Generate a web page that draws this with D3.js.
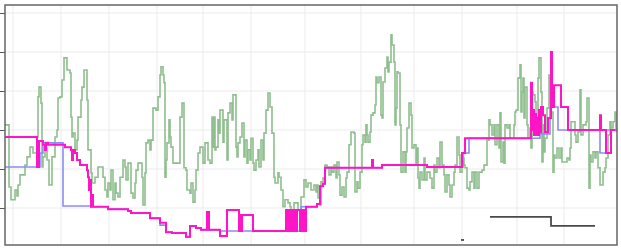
<!DOCTYPE html>
<html>
<head>
<meta charset="utf-8">
<script src="https://cdn.jsdelivr.net/npm/d3@7"></script>
<style>
  body { margin: 0; background: #fff; }
  svg { display: block; font-family: "DejaVu Sans", sans-serif; }
</style>
</head>
<body>
<svg id="chart" width="621" height="249"></svg>
<script>
// tick positions (x in days, y in value units)
const xTicks = [8, 56, 104, 152, 198, 246, 300, 356, 409, 457, 512, 559]
const yTicks = [0, 10, 20, 30, 40, 50]

// raw series (noisy, green)
const greenSeries = [[0,21.3],[4,5.4],[6,2.1],[10,4.6],[12,3.1],[13,5.9],[15,8.5],[20,11.0],[22,13.1],[25,15.6],[28,14.1],[32,18.2],[33,28.5],[34,31.0],[36,26.9],[37,10.5],[38,13.1],[40,15.4],[42,12.3],[44,5.9],[47,13.1],[50,18.2],[52,20.0],[53,28.2],[55,28.5],[57,32.8],[59,38.5],[62,35.4],[65,34.6],[66,23.3],[67,18.2],[68,19.2],[70,14.9],[72,17.4],[73,23.3],[76,27.7],[77,31.0],[79,35.4],[82,27.7],[83,14.9],[86,9.0],[87,6.4],[90,7.9],[93,10.5],[98,7.9],[100,4.6],[102,2.8],[103,6.4],[105,4.6],[106,9.7],[108,2.1],[110,6.4],[111,3.8],[113,2.8],[115,7.9],[118,12.3],[120,10.5],[121,7.2],[123,11.5],[126,3.8],[128,2.6],[130,6.4],[131,9.7],[133,11.5],[137,7.9],[138,0.8],[140,9.0],[141,16.7],[143,17.4],[145,14.9],[146,17.4],[148,25.6],[151,25.1],[153,28.5],[155,34.1],[156,36.2],[158,34.1],[159,32.1],[160,7.9],[161,12.3],[162,16.7],[164,22.6],[165,18.2],[166,15.6],[168,11.5],[175,23.3],[177,26.9],[179,10.3],[181,9.7],[182,4.6],[185,3.8],[186,6.4],[188,1.5],[190,4.6],[191,9.7],[193,14.1],[195,15.6],[198,11.5],[200,16.7],[203,12.3],[205,11.5],[207,23.3],[208,15.6],[209,23.3],[210,14.9],[211,15.6],[213,22.6],[214,19.2],[215,25.1],[218,16.9],[219,22.6],[222,12.3],[223,24.4],[225,26.9],[227,22.6],[228,29.0],[231,15.6],[232,13.1],[233,16.7],[235,18.2],[237,21.8],[239,13.1],[240,17.4],[242,11.5],[243,14.9],[245,12.3],[246,17.9],[248,11.5],[249,9.7],[251,12.3],[253,14.9],[254,10.5],[256,17.4],[258,12.3],[259,19.2],[261,25.1],[263,29.5],[265,25.9],[267,19.2],[269,7.9],[270,6.4],[273,9.0],[274,7.9],[276,4.6],[278,0.3],[280,2.1],[283,1.3],[285,0.3],[286,-1.3],[288,-2.3],[289,1.3],[293,-0.5],[296,2.8],[299,7.2],[301,5.4],[303,6.4],[306,4.6],[309,5.9],[311,4.1],[312,5.9],[313,2.6],[315,0.8],[316,6.7],[318,7.7],[320,11.0],[322,10.5],[324,8.5],[326,10.5],[327,9.2],[329,11.0],[331,7.7],[332,11.8],[334,8.5],[335,3.3],[337,5.4],[339,2.8],[341,7.7],[342,9.2],[344,16.2],[346,19.5],[349,19.2],[350,4.1],[352,6.7],[353,5.1],[355,9.2],[357,16.2],[358,18.7],[360,16.9],[361,21.3],[362,18.7],[363,16.9],[365,19.5],[366,23.8],[368,24.4],[370,26.4],[371,33.6],[372,32.1],[374,33.6],[376,23.8],[377,23.1],[378,32.3],[380,35.9],[382,38.7],[383,34.9],[384,37.4],[386,44.4],[387,41.8],[389,37.4],[390,21.3],[391,25.6],[392,34.9],[393,34.6],[395,21.3],[396,9.2],[398,14.4],[400,9.2],[401,14.4],[402,20.5],[404,26.9],[406,23.8],[407,15.4],[409,16.2],[411,11.0],[412,15.4],[413,7.7],[414,5.1],[415,9.2],[417,7.2],[419,12.8],[420,7.2],[422,9.2],[425,7.7],[427,5.1],[429,11.0],[430,9.2],[432,12.8],[434,10.3],[435,16.9],[437,11.0],[439,8.5],[440,4.1],[442,8.5],[444,5.9],[445,2.8],[447,5.9],[449,9.2],[450,11.0],[452,18.2],[454,13.6],[455,9.2],[457,12.8],[459,11.0],[460,10.3],[462,5.1],[464,4.6],[465,6.7],[467,9.2],[469,5.1],[470,9.2],[472,5.1],[474,9.2],[477,9.7],[479,11.0],[482,17.4],[484,22.6],[485,21.3],[487,18.7],[489,21.3],[490,16.2],[492,21.3],[494,15.4],[495,24.4],[496,11.8],[498,16.9],[499,11.5],[500,21.3],[502,20.5],[504,21.3],[505,17.9],[509,21.3],[510,24.6],[511,25.1],[513,33.3],[515,36.7],[516,24.6],[517,29.7],[518,33.3],[519,23.1],[520,31.0],[522,21.3],[523,17.9],[525,20.5],[526,15.4],[527,29.7],[528,29.0],[530,27.2],[531,19.5],[533,33.3],[534,38.5],[536,29.7],[537,11.8],[538,21.3],[539,14.4],[540,17.9],[542,25.6],[544,34.1],[545,26.4],[546,24.6],[548,9.2],[549,13.6],[550,12.8],[552,15.4],[554,12.8],[556,15.4],[557,11.8],[562,12.8],[564,12.3],[565,15.4],[566,22.1],[570,18.7],[571,16.9],[573,19.5],[575,30.3],[576,18.7],[578,21.3],[581,22.1],[582,28.2],[584,5.1],[585,13.6],[586,11.8],[588,14.4],[590,12.8],[591,14.4],[593,10.3],[595,5.9],[598,9.2],[600,10.3],[601,12.8],[603,18.7],[605,22.1],[606,20.5],[608,22.1],[610,24.6],[611,20.5],[612,20.5]]

// filtered level (magenta)
const magentaSeries = [[0,18.2],[32,10.5],[34,17.2],[38,16.2],[40,14.9],[41,16.7],[43,16.2],[60,15.6],[66,14.9],[67,12.3],[68,14.9],[70,14.1],[72,12.3],[75,11.0],[82,9.7],[83,7.9],[84,4.6],[85,7.2],[86,0.3],[87,3.3],[88,0.3],[103,-0.3],[123,-0.8],[126,-1.3],[145,-2.6],[155,-3.8],[161,-6.2],[167,-6.4],[181,-7.4],[185,-4.6],[191,-5.1],[196,-5.6],[202,-1.0],[204,-5.6],[215,-7.2],[222,-0.5],[234,-5.9],[235,-1.8],[236,-5.9],[237,-1.8],[248,-5.9],[281,-0.5],[283,-5.9],[284,-0.5],[286,-5.9],[288,-0.5],[290,-5.9],[292,-0.5],[295,-5.9],[297,-0.5],[299,-5.9],[301,0.3],[312,1.0],[315,5.6],[318,6.2],[320,10.3],[367,12.3],[368,10.3],[377,11.0],[422,10.5],[457,14.1],[460,17.9],[526,32.1],[527,20.0],[528,25.1],[529,18.7],[530,24.1],[531,18.7],[532,23.1],[533,18.7],[534,25.1],[535,19.5],[536,25.9],[538,23.8],[540,19.5],[543,23.1],[546,40.0],[547,25.9],[549,31.5],[556,25.9],[563,20.0],[595,23.8],[596,20.0],[601,14.1],[606,20.0],[612,20.0]]

// smoothed level (blue)
const blueSeries = [[0,10.5],[35,14.1],[38,16.7],[58,0.5],[86,0.3],[103,-0.3],[123,-0.8],[126,-1.3],[145,-2.6],[155,-4.4],[161,-6.2],[167,-6.4],[181,-7.4],[185,-4.6],[191,-5.1],[196,-5.6],[215,-5.9],[296,0.3],[312,1.0],[315,5.6],[318,6.2],[320,10.3],[377,11.0],[422,10.5],[458,14.1],[464,17.9],[535,19.0],[545,25.9],[553,20.0],[595,14.1],[601,20.0],[612,20.0]]

// black segments
const blackSeries = [[485,-2.3],[546,-4.6],[590,-4.6]]
const blackDash = [[456,-8.2],[459,-8.2]]

const W = 621, H = 249
const padL = 5, padT = 5, padR = 617, padB = 245

const svg = d3.select("#chart")

const x = d3.scaleLinear().domain([0, 612]).range([padL, padR])
const y = d3.scaleLinear().domain([-9.49, 52.05]).range([padB, padT])

svg.append("rect").attr("width", W).attr("height", H).attr("fill", "#fff")

svg.append("clipPath").attr("id", "plotClip")
  .append("rect")
  .attr("x", padL).attr("y", padT)
  .attr("width", padR - padL).attr("height", padB - padT)

// grid
const grid = svg.append("g").attr("class", "grid")
grid.selectAll(".vgrid").data(xTicks).enter()
  .append("line")
  .attr("x1", d => x(d)).attr("x2", d => x(d))
  .attr("y1", padT).attr("y2", padB)
  .attr("stroke", "#ebebeb").attr("stroke-width", 1)
grid.selectAll(".hgrid").data(yTicks).enter()
  .append("line")
  .attr("x1", padL).attr("x2", padR)
  .attr("y1", d => y(d)).attr("y2", d => y(d))
  .attr("stroke", "#ebebeb").attr("stroke-width", 1)

// left axis: only the tick marks show, the labels are outside the picture
const yAxis = d3.axisLeft(y).tickValues(yTicks).tickSize(5).tickFormat("")
const ax = svg.append("g").attr("transform", `translate(${padL},0)`).call(yAxis)
ax.select(".domain").remove()
ax.selectAll(".tick line").attr("stroke", "#555")

const stepLine = d3.line()
  .x(d => x(d[0]))
  .y(d => y(d[1]))
  .curve(d3.curveStepAfter)

const plot = svg.append("g").attr("clip-path", "url(#plotClip)")

function drawSeries(data, color, width){
  plot.append("path")
    .datum(data)
    .attr("fill", "none")
    .attr("stroke", color)
    .attr("stroke-width", width)
    .attr("stroke-linejoin", "miter")
    .attr("d", stepLine)
}

drawSeries(greenSeries, "#8fbf8f", 1.6)
drawSeries(blueSeries, "#8c8cf0", 1.6)
drawSeries(magentaSeries, "#ff14c8", 2)
drawSeries(blackSeries, "#4a4a4a", 1.8)
drawSeries(blackDash, "#4a4a4a", 1.8)

// end marker of blue series
const last = blueSeries[blueSeries.length - 1]
plot.append("circle")
  .attr("cx", x(last[0])).attr("cy", y(last[1]))
  .attr("r", 2).attr("fill", "#8c8cf0")

// frame
svg.append("rect")
  .attr("x", padL).attr("y", padT)
  .attr("width", padR - padL).attr("height", padB - padT)
  .attr("fill", "none")
  .attr("stroke", "#666").attr("stroke-width", 1.5)
</script>
</body>
</html>
